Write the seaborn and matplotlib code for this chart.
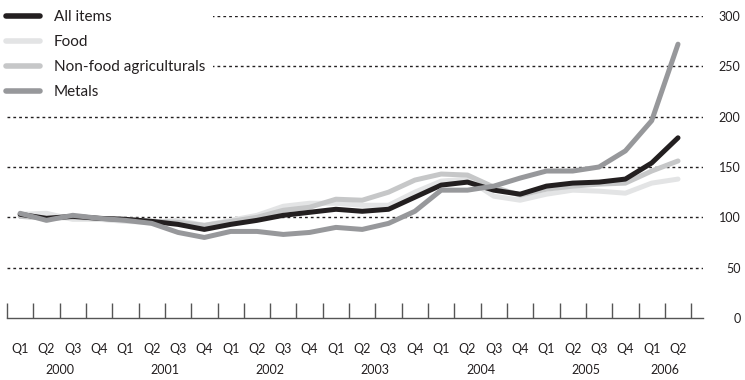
import numpy as np
import pandas as pd
import seaborn as sns
import matplotlib.pyplot as plt
from matplotlib.transforms import blended_transform_factory

# quarterly index, 2000 Q1 = 100
quarters = ["Q1", "Q2", "Q3", "Q4"] * 6 + ["Q1", "Q2"]
years = ["2000", "2001", "2002", "2003", "2004", "2005", "2006"]
series_names = ["All items", "Food", "Non-food agriculturals", "Metals"]

all_items = [103, 99, 101, 99, 98, 96, 93, 88, 93, 97, 102, 105, 108,
             106, 108, 120, 132, 135, 127, 123, 131, 134, 135, 138, 154, 179]
food = [103, 104, 98, 98, 96, 95, 97, 92, 97, 102, 111, 114, 114,
        112, 112, 125, 136, 138, 121, 117, 123, 127, 126, 124, 134, 138]
non_food = [101, 99, 100, 99, 98, 96, 95, 92, 96, 100, 107, 110, 118,
            117, 125, 137, 143, 142, 130, 122, 128, 131, 133, 134, 146, 156]
metals = [104, 97, 102, 99, 97, 94, 85, 80, 86, 86, 83, 85, 90,
          88, 94, 106, 127, 127, 131, 139, 146, 146, 150, 166, 196, 272]

y_ticks = [0, 50, 100, 150, 200, 250, 300]

palette = {
    "All items": "#231f20",
    "Food": "#e3e4e5",
    "Non-food agriculturals": "#c6c7c8",
    "Metals": "#97989b",
}
draw_order = {"Food": 1, "Non-food agriculturals": 2, "All items": 3, "Metals": 4}

idx = np.arange(len(quarters))
df = pd.DataFrame({
    "t": np.tile(idx, 4),
    "value": all_items + food + non_food + metals,
    "series": np.repeat(series_names, len(quarters)),
})

sns.set_theme(style="white")
plt.rcParams["font.family"] = ["Lato", "DejaVu Sans"]
plt.rcParams["font.size"] = 9
plt.rcParams["text.color"] = "#231f20"

fig = plt.figure(figsize=(7.45, 3.8), dpi=100)
ax = fig.add_axes([7 / 745, 62 / 380, 696 / 745, 302 / 380])

sns.lineplot(data=df, x="t", y="value", hue="series", hue_order=series_names,
             palette=palette, linewidth=3.6, ax=ax)

for line in ax.lines:
    line.set_solid_capstyle("round")
    line.set_solid_joinstyle("round")
for line, name in zip(ax.lines, series_names):
    line.set_zorder(2 + draw_order[name])

ax.set_xlim(-0.5, 25.95)
ax.set_ylim(0, 300)
ax.set_xlabel("")
ax.set_ylabel("")

# dotted gridlines
for v in y_ticks[1:]:
    ax.axhline(v, color="#231f20", lw=1.0, ls=(0, (2, 2.2)), zorder=1)

for s in ["top", "left", "right"]:
    ax.spines[s].set_visible(False)
ax.spines["bottom"].set_color("#555555")
ax.spines["bottom"].set_linewidth(1.0)

# quarter labels at data points, tick marks between them
ax.set_xticks(idx)
ax.set_xticklabels(quarters)
ax.set_xticks(np.arange(-0.5, 26, 1), minor=True)
ax.tick_params(axis="x", which="major", length=0, pad=18, labelsize=9,
               labelcolor="#231f20")
ax.tick_params(axis="x", which="minor", direction="in", length=11,
               width=1.0, color="#555555", bottom=True)

ax.yaxis.tick_right()
ax.set_yticks(y_ticks)
ax.tick_params(axis="y", length=0, pad=27, labelsize=9, labelcolor="#231f20")
for lab in ax.get_yticklabels():
    lab.set_horizontalalignment("right")

trans = blended_transform_factory(ax.transData, ax.transAxes)
for i, yr in enumerate(years):
    ax.text(i * 4 + 1.5 if yr != "2006" else 24.5, -0.172, yr, transform=trans,
            ha="center", va="center", fontsize=9)

leg = ax.get_legend()
handles = leg.legend_handles
for h in handles:
    h.set_linewidth(4.0)
    h.set_solid_capstyle("round")
leg.remove()
leg = ax.legend(handles, series_names, loc="upper left",
                bbox_to_anchor=(-0.012, 1.045), frameon=True, fancybox=False,
                framealpha=1, facecolor="white", edgecolor="white",
                handlelength=2.2, handletextpad=0.9, labelspacing=0.72,
                borderpad=0.5, borderaxespad=0)
leg.set_zorder(10)
leg.get_frame().set_linewidth(0)

fig.savefig("out.png", dpi=100)
